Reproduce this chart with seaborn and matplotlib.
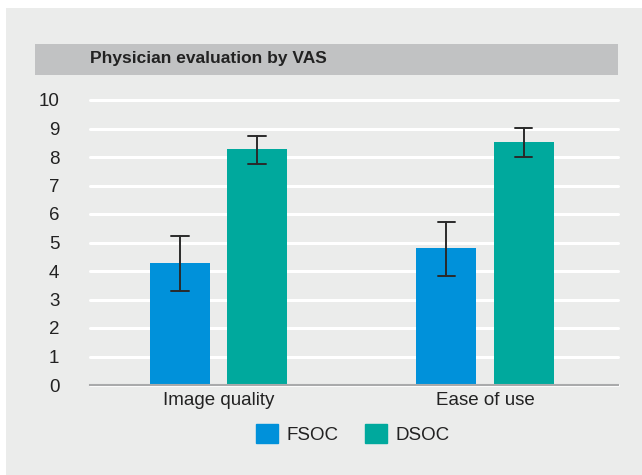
import matplotlib
matplotlib.use("Agg")
import matplotlib.pyplot as plt
import matplotlib.patches as mpatches
import seaborn as sns
import pandas as pd
import numpy as np

categories = ["Image quality", "Ease of use"]
series = ["FSOC", "DSOC"]
fsoc_values = [4.28, 4.8]
dsoc_values = [8.27, 8.52]
fsoc_err_low = [3.30, 3.81]
fsoc_err_high = [5.24, 5.73]
dsoc_err_low = [7.76, 7.99]
dsoc_err_high = [8.75, 9.02]
yticks = list(range(0, 11))
title = "Physician evaluation by VAS"

colors = {"FSOC": "#0091DA", "DSOC": "#00A99D"}
bg = "#EBECEB"

sns.set_theme(style="white")
plt.rcParams['font.family'] = ['Liberation Sans', 'DejaVu Sans']

df = pd.DataFrame({
    "category": categories * 2,
    "series": ["FSOC"] * 2 + ["DSOC"] * 2,
    "value": fsoc_values + dsoc_values,
})

fig = plt.figure(figsize=(6.42, 4.75), dpi=100)
fig.patch.set_facecolor("white")
fig.patches.append(mpatches.Rectangle((6/642, 0), 1, 1 - 8/475, transform=fig.transFigure,
                                      facecolor=bg, edgecolor="none", zorder=-10))
fig.patches.append(mpatches.Rectangle((35/642, 1 - 75/475), (618 - 35)/642, 31/475,
                                      transform=fig.transFigure, facecolor="#C1C2C3",
                                      edgecolor="none", zorder=-5))
fig.text(90/642, 1 - 59/475, title, fontsize=12.5, fontweight="bold", color="#222222",
         va="center", ha="left")

ax = fig.add_axes([90/642, 1 - 385/475, (618 - 90)/642, 285/475])
ax.set_facecolor(bg)
sns.barplot(data=df, x="category", y="value", hue="series", hue_order=series,
            palette=colors, width=0.578, gap=0.221, errorbar=None, ax=ax,
            saturation=1, legend=False, linewidth=0)

lows = {"FSOC": fsoc_err_low, "DSOC": dsoc_err_low}
highs = {"FSOC": fsoc_err_high, "DSOC": dsoc_err_high}
for cont, s in zip(ax.containers, series):
    for bar, lo, hi in zip(cont, lows[s], highs[s]):
        xc = bar.get_x() + bar.get_width() / 2
        ax.plot([xc, xc], [lo, hi], color="#2a2a2a", lw=1.4, zorder=5)
        ax.plot([xc - 0.033, xc + 0.033], [lo, lo], color="#2a2a2a", lw=1.4, zorder=5)
        ax.plot([xc - 0.033, xc + 0.033], [hi, hi], color="#2a2a2a", lw=1.4, zorder=5)

ax.set_xlim(-0.482, 1.499)
ax.set_ylim(0, 10)
ax.set_yticks(yticks)
ax.yaxis.grid(True, color="white", lw=2.2)
for gl in ax.get_ygridlines():
    gl.set_clip_on(False)
ax.set_axisbelow(True)
for sp in ["top", "right", "left"]:
    ax.spines[sp].set_visible(False)
ax.spines["bottom"].set_color("#A9AAAB")
ax.spines["bottom"].set_linewidth(1.5)
ax.spines["bottom"].set_zorder(6)
ax.tick_params(axis="y", length=0, pad=22, labelsize=13.5, labelcolor="#222222")
ax.tick_params(axis="x", length=0, pad=5, labelsize=13.5, labelcolor="#222222")
ax.set_xlabel("")
ax.set_ylabel("")

handles = [mpatches.Patch(color=colors[s], label=s) for s in series]
fig.legend(handles=handles, loc="center", bbox_to_anchor=(353/642, 1 - 434/475), ncol=2,
           frameon=False, fontsize=13.5, handlelength=1.17, handleheight=1.17,
           columnspacing=1.44, handletextpad=0.43, labelcolor="#222222")

fig.savefig("out.png", dpi=100, facecolor=fig.get_facecolor())
